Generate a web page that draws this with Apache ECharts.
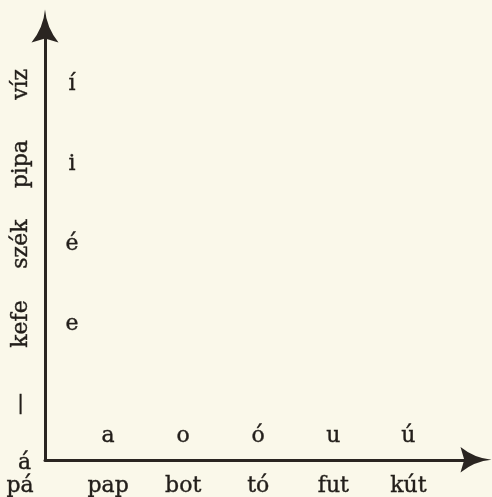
<!DOCTYPE html>
<html>
<head>
<meta charset="utf-8">
<script src="https://cdn.jsdelivr.net/npm/echarts@6/dist/echarts.min.js"></script>
<style>
html, body { margin: 0; padding: 0; background: #faf8ea; }
#chart { width: 492px; height: 497px; }
</style>
</head>
<body>
<div id="chart"></div>
<script>
// words on the two axes
var xWords = ['pá', 'pap', 'bot', 'tó', 'fut', 'kút'];
var yWords = ['—', 'kefe', 'szék', 'pipa', 'víz'];
// vowels of the words
var rowVowels = ['a', 'o', 'ó', 'u', 'ú'];   // pap .. kút
var colVowels = ['e', 'é', 'i', 'í'];        // kefe .. víz
var cornerVowel = 'á';                       // pá

// where the vowel row / column sit, in axis units
var rowLevel = -0.4;
var colLevel = 0.52;
var cornerX = 0.06;
var cornerLevel = -0.74;

var ink = '#221e1a';
var font = 'DejaVu Serif';
var fontSize = 22;
var arrowPath = 'path://M13.5,0 Q15,18 27,33 L13.5,29 L0,33 Q12,18 13.5,0 Z';

var rowData = rowVowels.map(function (v, i) { return [i + 1, rowLevel, v]; });
var colData = colVowels.map(function (v, i) { return [colLevel, i + 1, v]; });

function textStyle(extra) {
	var s = {
		color: ink,
		fontFamily: font,
		fontSize: fontSize,
		textBorderColor: ink,
		textBorderWidth: 0.4
	};
	for (var k in extra) s[k] = extra[k];
	return s;
}

function vowelSeries(data, xi, yi) {
	return {
		type: 'scatter',
		xAxisIndex: xi,
		yAxisIndex: yi,
		clip: false,
		silent: true,
		symbolSize: 1,
		itemStyle: { color: 'transparent', opacity: 1 },
		label: textStyle({
			show: true,
			position: 'inside',
			opacity: 1,
			formatter: function (p) { return p.data[2]; }
		}),
		data: data
	};
}

var hidden = { show: false };

var chart = echarts.init(document.getElementById('chart'));
chart.setOption({
	backgroundColor: '#faf8ea',
	animation: false,
	grid: [
		{ left: 45, right: 16, top: 26, bottom: 36 },
		{ left: 0, width: 45, top: 26, bottom: 36 }
	],
	xAxis: [
		{
			type: 'value',
			gridIndex: 0,
			min: 0.16,
			max: 5.9,
			splitLine: hidden,
			axisTick: hidden,
			axisLine: {
				show: true,
				onZero: false,
				symbol: ['none', arrowPath],
				symbolSize: [26, 31],
				lineStyle: { color: '#2a2521', width: 3 }
			},
			axisLabel: textStyle({
				customValues: [1, 2, 3, 4, 5],
				margin: 15,
				formatter: function (v) { return xWords[Math.round(v)]; }
			})
		},
		{
			type: 'value',
			gridIndex: 1,
			min: -20 / 75,
			max: 25 / 75,
			splitLine: hidden,
			axisTick: hidden,
			axisLine: hidden,
			axisLabel: textStyle({
				customValues: [0],
				margin: 15,
				formatter: function (v) { return xWords[Math.round(v)]; }
			})
		}
	],
	yAxis: [
		{
			type: 'value',
			gridIndex: 0,
			min: -0.7,
			max: 4.73,
			splitLine: hidden,
			axisTick: hidden,
			axisLine: {
				show: true,
				onZero: false,
				symbol: ['none', arrowPath],
				symbolSize: [27, 33],
				lineStyle: { color: '#2a2521', width: 3 }
			},
			axisLabel: textStyle({
				customValues: [0, 1, 2, 3, 4],
				rotate: 90,
				margin: 13,
				formatter: function (v) { return yWords[Math.round(v)]; }
			})
		},
		{
			type: 'value',
			gridIndex: 1,
			min: -0.7,
			max: 4.73,
			show: false
		}
	],
	series: [
		vowelSeries(rowData, 0, 0),
		vowelSeries(colData, 0, 0),
		vowelSeries([[cornerX, cornerLevel, cornerVowel]], 1, 1)
	]
});
</script>
</body>
</html>
